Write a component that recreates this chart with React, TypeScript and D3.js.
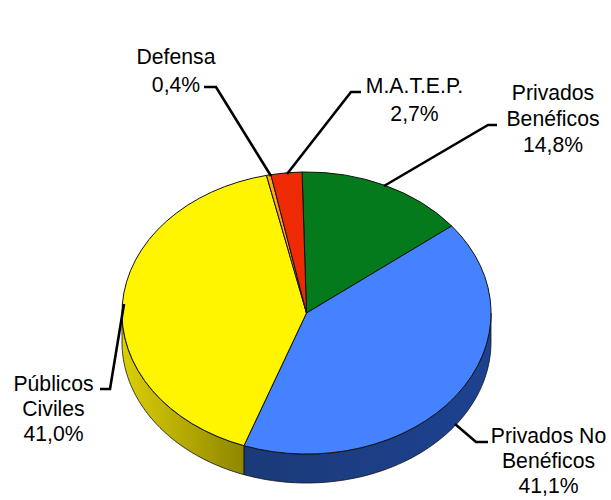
import React from "react";
import * as d3 from "d3";

const categories = ["Privados Benéficos", "Privados No Benéficos", "Públicos Civiles", "Defensa", "M.A.T.E.P."];
const values = [14.8, 41.1, 41.0, 0.4, 2.7];
const valueLabels = ["14,8%", "41,1%", "41,0%", "0,4%", "2,7%"];
const colors = ["#047a1c", "#4482ff", "#fff500", "#ffa90f", "#ee2a04"];
const labelLines = [["Privados", "Benéficos", "14,8%"], ["Privados No", "Benéficos", "41,1%"], ["Públicos", "Civiles", "41,0%"], ["Defensa", "0,4%"], ["M.A.T.E.P.", "2,7%"]];

const W = 611, H = 500, CX = 306.5, CY = 313, RX = 184.5, RY = 141, DEPTH = 29;
const START = (-1.4 * Math.PI) / 180;
const FONT = "'Liberation Sans', Arial, sans-serif";
const FS = 21.2;

const layout: { anchor: [number, number]; line: number; leader: [number, number][] }[] = [
  { anchor: [553, 100], line: 26, leader: [[497, 125], [488, 125], [384, 186]] },
  { anchor: [548.5, 443], line: 25, leader: [[488, 442], [476, 442], [455, 424]] },
  { anchor: [53.5, 391], line: 25, leader: [[100, 389], [110, 389], [124, 304]] },
  { anchor: [176, 64], line: 27.5, leader: [[204, 87], [216, 87], [271, 176]] },
  { anchor: [414.5, 93], line: 27.5, leader: [[361, 92], [351, 92], [287, 174]] },
];

const pie = d3.pie<number>().sort(null).startAngle(START).endAngle(START + 2 * Math.PI);
const arcs = pie(values);
const arcGen = d3.arc<d3.PieArcDatum<number>>().innerRadius(0).outerRadius(1);
const px = (a: number) => CX + RX * Math.sin(a);
const py = (a: number) => CY - RY * Math.cos(a);
const lineGen = d3.line();

function sidePath(a0: number, a1: number) {
  const p: [number, number][] = d3.range(0, 61).map((i) => {
    const a = a0 + ((a1 - a0) * i) / 60;
    return [px(a), py(a)] as [number, number];
  });
  const q = [...p].reverse().map(([x, y]) => [x, y + DEPTH] as [number, number]);
  return lineGen([...p, ...q]) + "Z";
}

const clampSide = (d: d3.PieArcDatum<number>) => {
  const a0 = Math.max(d.startAngle, Math.PI / 2);
  const a1 = Math.min(d.endAngle, (3 * Math.PI) / 2);
  return a1 > a0 ? [a0, a1] : null;
};

export default function App() {
  return (
    <svg width={W} height={H} style={{ position: "absolute", left: 0, top: 0, background: "#fff" }}>
      <defs>
        <linearGradient id="g1" gradientUnits="userSpaceOnUse" x1={CX + 185} x2={244} y1={0} y2={0}>
          <stop offset="0" stopColor="#1d4290" />
          <stop offset="1" stopColor="#1a3a78" />
        </linearGradient>
        <linearGradient id="g2" gradientUnits="userSpaceOnUse" x1={122} x2={244} y1={0} y2={0}>
          <stop offset="0" stopColor="#dccf05" />
          <stop offset="1" stopColor="#8f8600" />
        </linearGradient>
      </defs>
      {arcs.map((d, i) => {
        const s = clampSide(d);
        if (!s) return null;
        return <path key={i} d={sidePath(s[0], s[1])} fill={`url(#g${i})`} stroke="#111" strokeWidth={0.8} strokeLinejoin="round" />;
      })}
      {arcs.map((d, i) => (
        <path
          key={i}
          d={arcGen(d) ?? ""}
          transform={`translate(${CX},${CY}) scale(${RX},${RY})`}
          fill={colors[i]}
          stroke="#111"
          strokeWidth={1}
          vectorEffect="non-scaling-stroke"
          strokeLinejoin="round"
        >
          <title>{`${categories[i]} ${valueLabels[i]}`}</title>
        </path>
      ))}
      {layout.map((l, i) => (
        <path key={i} d={lineGen(l.leader) ?? ""} fill="none" stroke="#000" strokeWidth={2.6} />
      ))}
      {layout.map((l, i) => (
        <text key={i} textAnchor="middle" fontFamily={FONT} fontSize={FS} fill="#000">
          {labelLines[i].map((t, j) => (
            <tspan key={j} x={l.anchor[0]} y={l.anchor[1] + j * l.line}>{t}</tspan>
          ))}
        </text>
      ))}
    </svg>
  );
}
